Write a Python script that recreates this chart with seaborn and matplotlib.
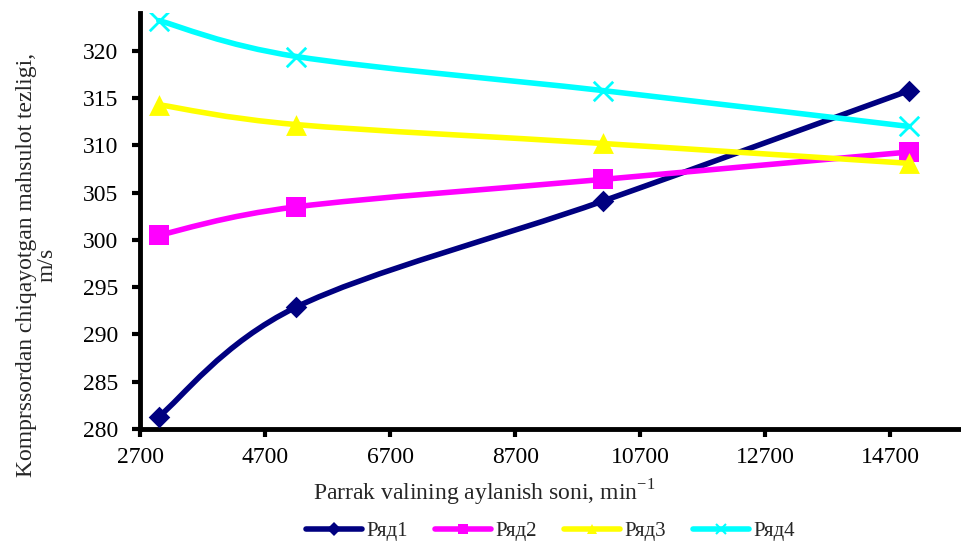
import numpy as np
import matplotlib
matplotlib.use("Agg")
import matplotlib.pyplot as plt
from matplotlib.path import Path
from matplotlib.patches import PathPatch
from matplotlib.lines import Line2D
import seaborn as sns

# Rotor speed (min^-1) and outlet product velocity (m/s) per series
speed = [3000, 5200, 10100, 15000]
row1 = [281.3, 292.9, 304.1, 315.8]
row2 = [300.5, 303.5, 306.4, 309.3]
row3 = [314.3, 312.2, 310.2, 308.1]
row4 = [323.2, 319.4, 315.8, 312.0]
series_names = ["Ряд1", "Ряд2", "Ряд3", "Ряд4"]
x_ticks = [2700, 4700, 6700, 8700, 10700, 12700, 14700]
y_ticks = [280, 285, 290, 295, 300, 305, 310, 315, 320]

colors = ["#000080", "#FF00FF", "#FFFF00", "#00FFFF"]
markers = ["D", "s", "^", "x"]
msizes = [11, 15, 15, 14]

sns.set_style("ticks")
plt.rcParams["font.family"] = ["Liberation Serif", "DejaVu Serif"]
plt.rcParams["mathtext.fontset"] = "custom"
plt.rcParams["mathtext.rm"] = "Liberation Serif"


def smooth_path(xs, ys):
    """Bezier path through the points, smoothed like a spreadsheet line chart."""
    pts = np.column_stack([xs, ys]).astype(float)
    ext = np.vstack([pts[0], pts, pts[-1]])
    verts = [pts[0]]
    codes = [Path.MOVETO]
    for i in range(len(pts) - 1):
        p0, p1, p2, p3 = ext[i], ext[i + 1], ext[i + 2], ext[i + 3]
        c1 = p1 + (p2 - p0) / 6.0
        c2 = p2 - (p3 - p1) / 6.0
        verts += [c1, c2, p2]
        codes += [Path.CURVE4] * 3
    return Path(verts, codes)


fig = plt.figure(figsize=(9.61, 5.43), dpi=100)
ax = fig.add_axes([0.1457, 0.21, 0.8543, 0.766])

handles = []
for i, (vals, name) in enumerate(zip([row1, row2, row3, row4], series_names)):
    patch = PathPatch(smooth_path(speed, vals), facecolor="none",
                      edgecolor=colors[i], lw=4, zorder=2 + 2 * i,
                      capstyle="round", joinstyle="round")
    ax.add_patch(patch)
    if markers[i] == "x":
        sns.scatterplot(x=speed, y=vals, marker="x", s=msizes[i] ** 2,
                        color=colors[i], linewidth=2, ax=ax, zorder=3 + 2 * i)
    else:
        sns.scatterplot(x=speed, y=vals, marker=markers[i], s=msizes[i] ** 2,
                        color=colors[i], edgecolor=colors[i], linewidth=0,
                        ax=ax, zorder=3 + 2 * i)
    handles.append(Line2D([], [], color=colors[i], lw=4, marker=markers[i],
                          markersize=7, markeredgewidth=1.5 if markers[i] == "x" else 0,
                          markeredgecolor=colors[i], label=name,
                          solid_capstyle="round"))

ax.set_xlim(2700, 15830)
ax.set_ylim(280, 324)
ax.set_xticks(x_ticks)
ax.set_yticks(y_ticks)
ax.tick_params(axis="both", direction="out", length=6, width=3, labelsize=17,
               color="black", labelcolor="black")
ax.tick_params(axis="x", pad=7)
ax.tick_params(axis="y", pad=10)
for side in ["top", "right"]:
    ax.spines[side].set_visible(False)
for side in ["left", "bottom"]:
    ax.spines[side].set_linewidth(3.5)
    ax.spines[side].set_color("black")
    ax.spines[side].set_capstyle("projecting")

ax.set_xlabel(r"Parrak valining aylanish soni, min$^{\mathregular{-1}}$", fontsize=17)
ax.xaxis.set_label_coords(0.419, -0.118)
ax.set_ylabel("Komprssordan chiqayotgan mahsulot tezligi,\nm/s", fontsize=17,
              linespacing=1.0)
ax.yaxis.set_label_coords(-0.10, 0.394)

fig.legend(handles=handles, loc="center", bbox_to_anchor=(0.573, 0.022), ncol=4,
           frameon=False, fontsize=15, handlelength=2.7, handletextpad=0.2,
           columnspacing=1.3)

fig.savefig("out.png", dpi=100)
